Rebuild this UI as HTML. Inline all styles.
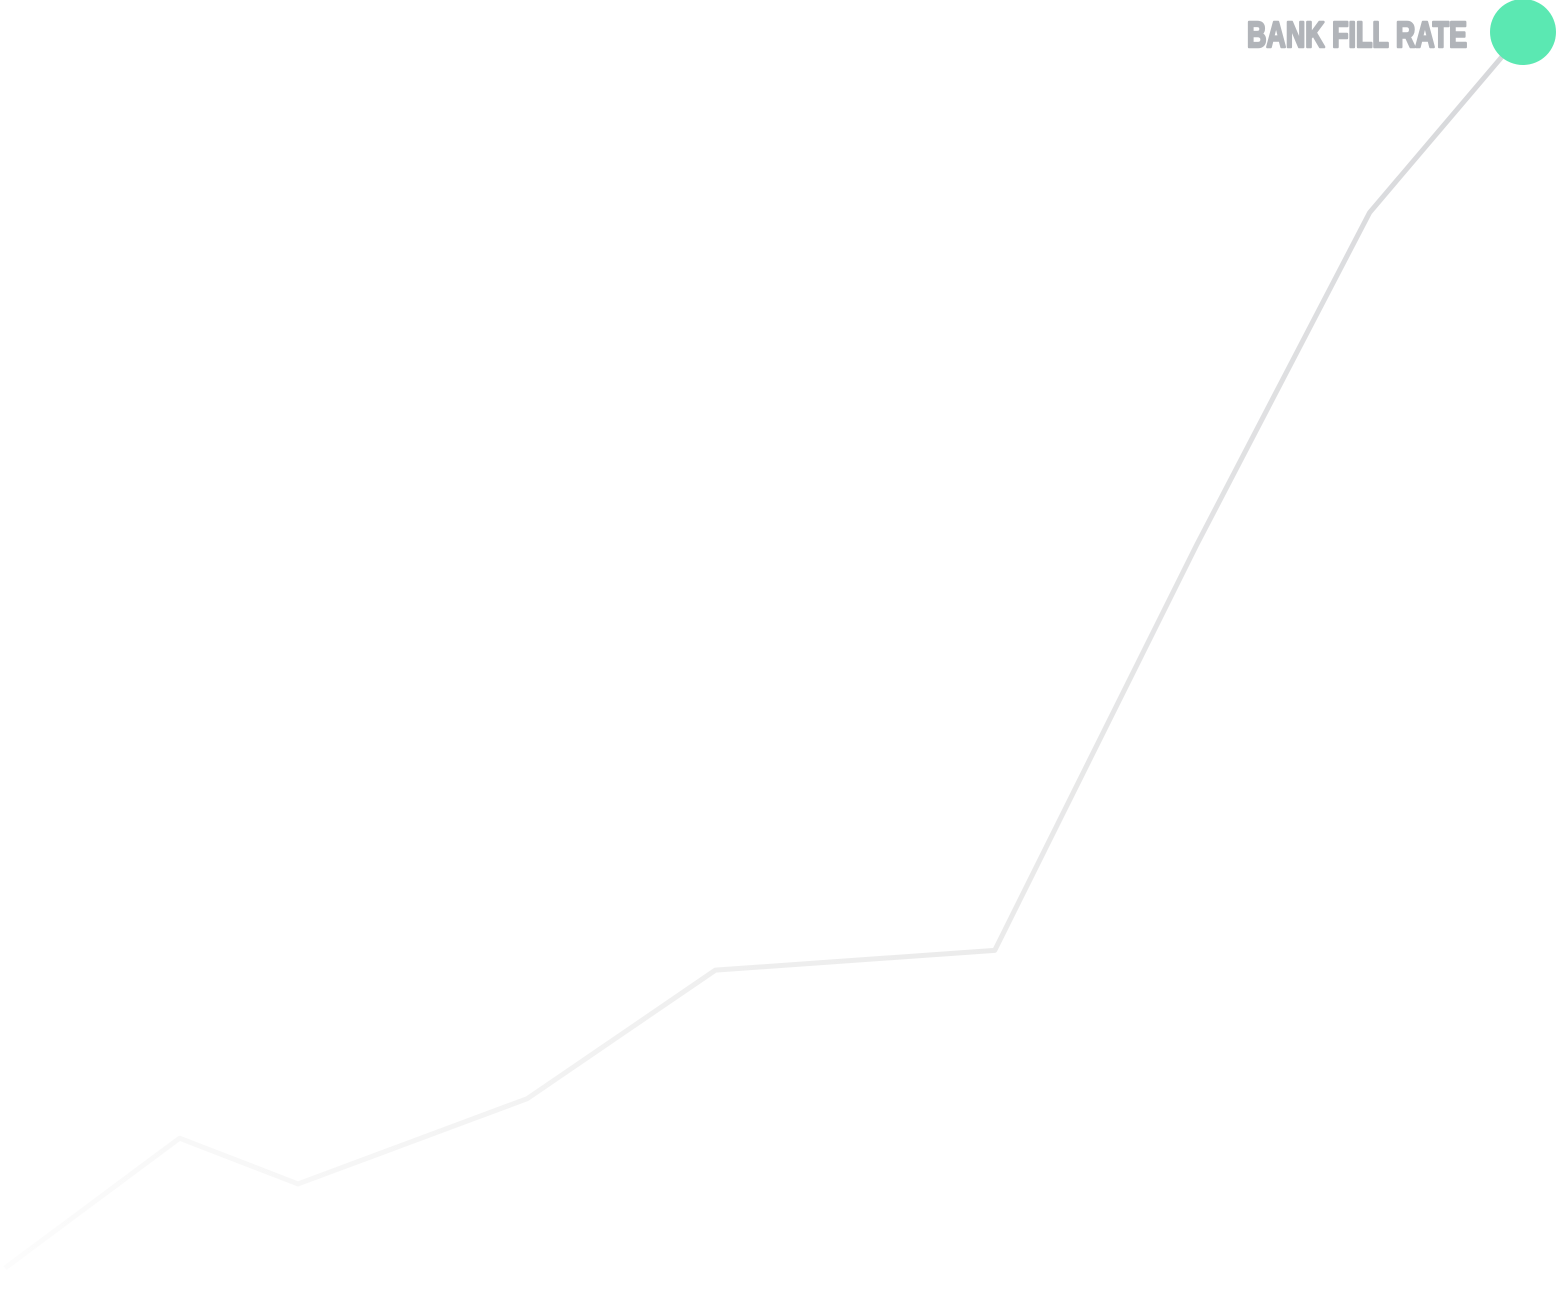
<!DOCTYPE html>
<html><head><meta charset="utf-8"><style>
html,body{margin:0;padding:0;background:#fff;}
svg{display:block;}
</style></head><body>
<svg id="chart" width="1557" height="1296" viewBox="0 0 1557 1296">
<defs>
<linearGradient id="lg" gradientUnits="userSpaceOnUse" x1="0" y1="1268" x2="1523" y2="32">
<stop offset="0" stop-color="#fcfcfc"/>
<stop offset="0.5" stop-color="#ebebeb"/>
<stop offset="1" stop-color="#d6d7da"/>
</linearGradient>
</defs>
<g id="marks"></g>
<text x="1247" y="47" textLength="220" lengthAdjust="spacingAndGlyphs" font-family="'Liberation Sans Narrow','Liberation Sans',sans-serif" font-weight="bold" font-size="36" fill="#b1b4b9" stroke="#b1b4b9" stroke-width="2.5" stroke-linejoin="round">BANK FILL RATE</text>
</svg>
<script>
const times = [0, 11.5, 19.3, 34.4, 46.8, 65.2, 78.5, 89.9, 100];
const values = [0, 10.5, 6.8, 13.7, 24.1, 25.7, 58.5, 85.4, 100];
const xScale = t => 5 + t / 100 * 1518;
const yScale = v => 1268 - v / 100 * 1236;
const g = document.getElementById('marks');
const ns = 'http://www.w3.org/2000/svg';
const pts = times.map((t, i) => xScale(t) + ',' + yScale(values[i])).join(' ');
const line = document.createElementNS(ns, 'polyline');


line.setAttribute('points', pts);
line.setAttribute('fill', 'none');
line.setAttribute('stroke', 'url(#lg)');
line.setAttribute('stroke-width', '5');
line.setAttribute('stroke-linejoin', 'round');
g.appendChild(line);
const last = times.length - 1;
const dot = document.createElementNS(ns, 'circle');


dot.setAttribute('cx', xScale(times[last]));
dot.setAttribute('cy', yScale(values[last]));
dot.setAttribute('r', '33');
dot.setAttribute('fill', '#5be8b2');
g.appendChild(dot);
</script>
</body></html>
